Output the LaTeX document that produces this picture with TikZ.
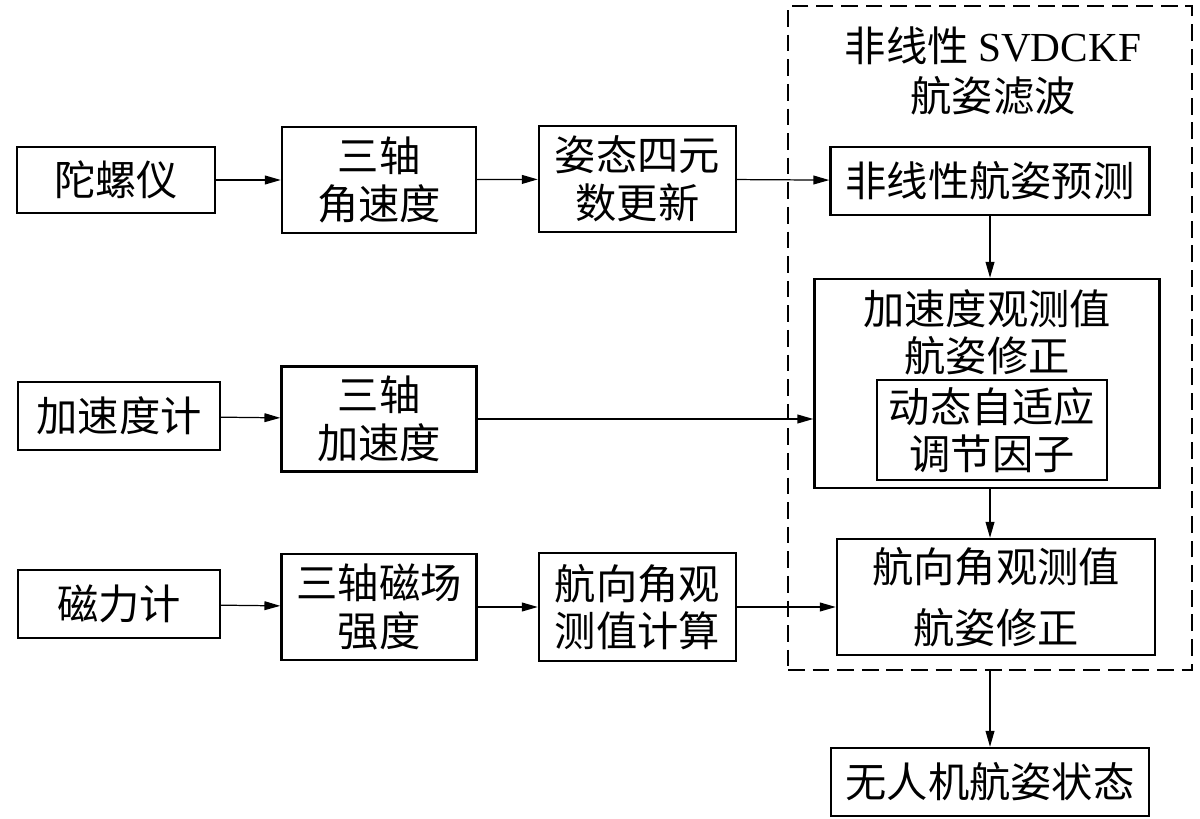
\documentclass[tikz,border=0pt]{standalone}
\usepackage{fontspec}
\setmainfont{Liberation Serif}
\newfontfamily\cjk{Noto Sans CJK SC}
\usetikzlibrary{arrows.meta}
\tikzset{
  box/.style 2 args={draw, line width=1.4pt, inner sep=0pt, align=center,
    minimum width=#1cm, minimum height=#2cm},
  >={Triangle[length=9pt,width=5pt]}
}
\begin{document}
\begin{tikzpicture}[font=\fontsize{23.5}{27}\selectfont\cjk]
      \useasboundingbox (0,0) rectangle (24,-16.38);
      \path
        (19.80,-6.76) node[draw, dashed, line width=0.8pt, dash pattern=on 9.5pt off 4.5pt,
          minimum width=8.08cm, minimum height=13.28cm, inner sep=0pt] (filter){}
        (19.86,-1.42) node[align=center] (title){非线性 {\rmfamily SVDCKF}\\[1pt]航姿滤波}
        (2.32,-3.60) node[box={3.96}{1.32}] (gyro){陀螺仪}
        (7.58,-3.60) node[box={3.88}{2.12}] (wrate){三轴\\角速度}
        (12.75,-3.58) node[box={3.94}{2.12}] (quat){姿态四元\\数更新}
        (19.80,-3.62) node[box={6.38}{1.36}] (pred){非线性航姿预测}
        (2.38,-8.32) node[box={4.04}{1.36}] (acc){加速度计}
        (7.58,-8.38) node[box={3.90}{2.10}] (accxyz){三轴\\加速度}
        (19.74,-7.67) node[box={6.90}{4.18}] (acccorr){}
        (19.74,-6.65) node[align=center] (acctext){\fontsize{23.5}{23.5}\selectfont 加速度观测值\\航姿修正}
        (19.84,-8.60) node[box={4.60}{2.00}] (adapt){\fontsize{23.5}{22.5}\selectfont 动态自适应\\调节因子}
        (2.38,-12.08) node[box={4.04}{1.36}] (mag){磁力计}
        (7.58,-12.14) node[box={3.90}{2.12}] (magxyz){三轴磁场\\强度}
        (12.75,-12.14) node[box={3.94}{2.16}] (yawcalc){航向角观\\测值计算}
        (19.92,-11.94) node[box={6.36}{2.32}] (yawcorr){航向角观测值\\[8pt]航姿修正}
        (19.80,-15.64) node[box={6.36}{1.36}] (state){无人机航姿状态};
      \begin{scope}[->, line width=0.7pt]
        \draw (gyro) to (wrate);
        \draw (wrate) to (quat);
        \draw (quat) to (pred);
        \draw (acc) to (accxyz);
        \draw (accxyz.east) to (accxyz.east -| acccorr.west);
        \draw (mag) to (magxyz);
        \draw (magxyz) to (yawcalc);
        \draw (yawcalc) to (yawcalc -| yawcorr.west);
        \draw (pred.south) to (pred.south |- acccorr.north);
        \draw (acccorr.south -| pred.south) to (pred.south |- yawcorr.north);
        \draw (filter.south -| state.north) to (state.north);
      \end{scope}
    \end{tikzpicture}
\end{document}
